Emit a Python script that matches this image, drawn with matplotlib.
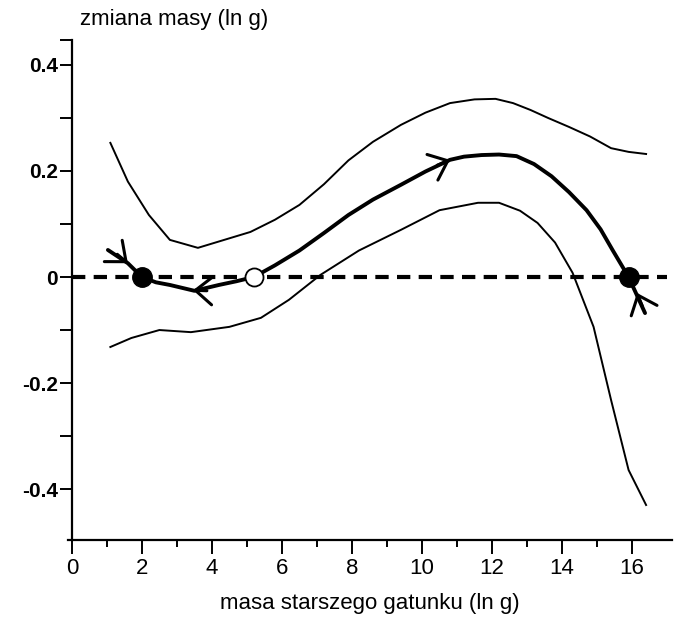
import numpy as np
import matplotlib
matplotlib.use("Agg")
import matplotlib.pyplot as plt

# dane
x_gorna = [1.1, 1.6, 2.2, 2.8, 3.6, 4.5, 5.1, 5.8, 6.5, 7.2, 7.9, 8.6, 9.4, 10.1, 10.8, 11.5, 12.1, 12.6, 13.1, 13.6, 14.2, 14.8, 15.4, 15.9, 16.4]
y_gorna = [0.253, 0.18, 0.117, 0.07, 0.055, 0.073, 0.085, 0.108, 0.136, 0.175, 0.22, 0.255, 0.287, 0.31, 0.328, 0.335, 0.336, 0.328, 0.315, 0.3, 0.283, 0.265, 0.243, 0.236, 0.232]

x_dolna = [1.1, 1.7, 2.5, 3.4, 4.5, 5.4, 6.2, 7.1, 8.2, 9.4, 10.5, 11.6, 12.2, 12.8, 13.3, 13.8, 14.3, 14.9, 15.4, 15.9, 16.4]
y_dolna = [-0.132, -0.115, -0.1, -0.104, -0.094, -0.077, -0.043, 0.004, 0.05, 0.089, 0.126, 0.14, 0.14, 0.125, 0.102, 0.065, 0.008, -0.094, -0.232, -0.364, -0.43]

x_srodek = [1.03, 1.6, 2.0, 2.4, 2.8, 3.5, 4.2, 4.7, 5.2, 5.8, 6.5, 7.2, 7.9, 8.6, 9.4, 10.1, 10.8, 11.2, 11.7, 12.2, 12.7, 13.2, 13.7, 14.2, 14.7, 15.1, 15.45, 15.9, 16.37]
y_srodek = [0.051, 0.026, 0.0, -0.01, -0.015, -0.026, -0.015, -0.008, 0.0, 0.022, 0.05, 0.083, 0.117, 0.146, 0.174, 0.199, 0.221, 0.227, 0.23, 0.231, 0.228, 0.213, 0.19, 0.16, 0.126, 0.09, 0.05, 0.0, -0.068]

# punkty równowagi
x_stabilne = [2.0, 15.9]
x_niestabilne = [5.2]

x_ticks = [0, 2, 4, 6, 8, 10, 12, 14, 16]
y_ticks = [0.4, 0.2, 0.0, -0.2, -0.4]
y_tick_labels = ["0.4", "0.2", "0", "-0.2", "-0.4"]

# strzałki: (x, y, kąt w stopniach)
strzalki = [(1.6, 0.026, -40), (3.46, -0.025, 178), (10.8, 0.221, 23), (16.14, -0.03, 112)]

plt.rcParams['font.family'] = ['Liberation Sans', 'DejaVu Sans']

fig = plt.figure(figsize=(6.79, 6.23), dpi=100)
ax = fig.add_axes([68 / 679, 83 / 623, 604 / 679, 500 / 623])

ax.plot(x_gorna, y_gorna, color='black', lw=1.4, solid_joinstyle='round')
ax.plot(x_dolna, y_dolna, color='black', lw=1.4, solid_joinstyle='round')
ax.plot(x_srodek, y_srodek, color='black', lw=2.8, solid_joinstyle='round', solid_capstyle='round')
ax.plot([0, 17.0], [0, 0], color='black', lw=3.0, dashes=(3.2, 2.0))

ax.plot(x_stabilne, [0] * len(x_stabilne), 'o', color='black', ms=14, zorder=5)
ax.plot(x_niestabilne, [0] * len(x_niestabilne), 'o', mfc='white', mec='black', mew=1.3, ms=13, zorder=5)

for x, y, kat in strzalki:
    dx = -np.cos(np.radians(kat)) * 10
    dy = -np.sin(np.radians(kat)) * 10
    ax.annotate('', xy=(x, y), xytext=(dx, dy), textcoords='offset points',
                arrowprops=dict(arrowstyle='->,head_length=0.6,head_width=0.5', lw=2.2,
                                mutation_scale=20, color='black', shrinkA=0, shrinkB=0),
                zorder=6)

ax.set_xlim(-0.11, 17.14)
ax.set_ylim(-0.496, 0.447)

for s in ['top', 'right']:
    ax.spines[s].set_visible(False)
ax.spines['left'].set_position(('data', 0))
ax.spines['left'].set_linewidth(1.6)
ax.spines['bottom'].set_linewidth(1.6)

ax.set_xticks(x_ticks)
ax.set_xticks([1, 3, 5, 7, 9, 11, 13, 15], minor=True)
ax.set_yticks(y_ticks)
ax.set_yticklabels(y_tick_labels, fontweight='bold')
ax.set_yticks([0.3, 0.1, -0.1, -0.3, 0.447], minor=True)
ax.tick_params(axis='x', which='major', length=10, width=1.4, labelsize=16, pad=3)
ax.tick_params(axis='x', which='minor', length=5, width=1.4)
ax.tick_params(axis='y', which='both', length=9, width=1.4, labelsize=15, pad=1)

fig.text(80 / 679, 1 - 20 / 623, 'zmiana masy (ln g)', fontsize=16, ha='left', va='center')
fig.text(370 / 679, 1 - 603 / 623, 'masa starszego gatunku (ln g)', fontsize=16, ha='center', va='center')

fig.savefig('out.png', dpi=100)
